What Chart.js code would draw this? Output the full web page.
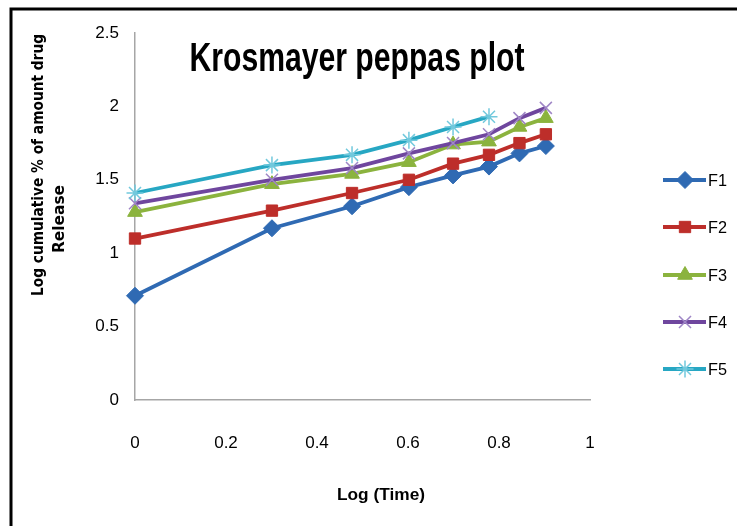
<!DOCTYPE html>
<html lang="en">
<head>
  <meta charset="UTF-8">
  <title>Krosmayer peppas plot</title>
  <script src="https://cdn.jsdelivr.net/npm/chart.js@4.4.1/dist/chart.umd.min.js"></script>
</head>
<style>
* {
  margin: 0;
  padding: 0;
  box-sizing: border-box;
}
html, body {
  width: 737px;
  height: 526px;
  background: #fff;
  overflow: hidden;
}
.wrap {
  position: relative;
  width: 737px;
  height: 526px;
}
</style>
<body>
<div class="wrap">
  <canvas id="chart" width="737" height="526"></canvas>
</div>
<script>
// log(time) values
const logTime = [0, 0.301, 0.477, 0.602, 0.699, 0.778, 0.845, 0.903];

// log cumulative % drug released
const f1 = [0.71, 1.17, 1.32, 1.45, 1.53, 1.59, 1.68, 1.73];
const f2 = [1.10, 1.29, 1.41, 1.50, 1.61, 1.67, 1.75, 1.81];
const f3 = [1.28, 1.47, 1.54, 1.62, 1.74, 1.76, 1.86, 1.92];
const f4 = [1.34, 1.50, 1.58, 1.68, 1.75, 1.81, 1.92, 1.99];
const f5 = [1.41, 1.60, 1.67, 1.77, 1.86, 1.93];

const seriesNames = ["F1", "F2", "F3", "F4", "F5"];
const seriesValues = [f1, f2, f3, f4, f5];

const lineColors = ["#2f6ab3", "#bd2e2a", "#8bb33e", "#6f469e", "#27a7c3"];
const markColors = ["#2f6ab3", "#bd2e2a", "#8bb33e", "#9f86c6", "#72c9dd"];
const markStyles = ["rectRot", "rect", "triangle", "crossRot", "star"];
const markSizes = [8.5, 8, 8.5, 8.5, 8.5];

const sans = "'Liberation Sans', Arial, sans-serif";

const datasets = seriesNames.map((name, i) => ({
  label: name,
  data: seriesValues[i].map((v, j) => ({ x: logTime[j], y: v })),
  borderColor: lineColors[i],
  backgroundColor: markColors[i],
  pointBackgroundColor: markColors[i],
  pointBorderColor: markColors[i],
  pointBorderWidth: i >= 3 ? 1.5 : 1,
  pointStyle: markStyles[i],
  pointRadius: markSizes[i],
  borderWidth: 3.8,
  clip: false,
  order: 5 - i
}));

// draws text squeezed (or stretched) to a given width
function fitText(ctx, text, x, y, width, rot) {
  const w = ctx.measureText(text).width;
  ctx.save();
  ctx.translate(x, y);
  if (rot) ctx.rotate(rot);
  ctx.scale(width / w, 1);
  ctx.fillText(text, 0, 0);
  ctx.restore();
}

// outer frame, titles and Excel-like legend
const decor = {
  id: "decor",
  afterDraw(chart) {
    const ctx = chart.ctx;
    ctx.save();
    ctx.strokeStyle = "#000";
    ctx.lineWidth = 3;
    ctx.beginPath();
    ctx.moveTo(737, 9);
    ctx.lineTo(11, 9);
    ctx.lineTo(11, 526);
    ctx.stroke();

    ctx.fillStyle = "#000";
    ctx.textAlign = "center";
    ctx.textBaseline = "middle";

    // chart title sits inside the plot
    ctx.font = "bold 40px " + sans;
    fitText(ctx, "Krosmayer peppas plot", 357, 60, 335);

    // axis titles
    ctx.font = "bold 17px " + sans;
    fitText(ctx, "Log (Time)", 381, 495, 88);
    ctx.font = "bold 15px 'DejaVu Sans', sans-serif";
    fitText(ctx, "Log cumulative % of amount drug", 39, 165, 262, -Math.PI / 2);
    fitText(ctx, "Release", 60, 219, 68, -Math.PI / 2);

    // legend
    const ys = [180, 227, 275, 322, 369];
    ctx.textAlign = "left";
    ctx.font = "17px " + sans;
    chart.data.datasets.forEach((ds, i) => {
      const y = ys[i];
      ctx.strokeStyle = ds.borderColor;
      ctx.lineWidth = 3.8;
      ctx.beginPath();
      ctx.moveTo(663, y);
      ctx.lineTo(706, y);
      ctx.stroke();
      ctx.fillStyle = ds.pointBackgroundColor;
      ctx.strokeStyle = ds.pointBorderColor;
      ctx.lineWidth = ds.pointBorderWidth;
      Chart.helpers.drawPoint(ctx, {
        pointStyle: ds.pointStyle,
        radius: ds.pointRadius,
        rotation: 0,
        borderWidth: ds.pointBorderWidth
      }, 685, y);
      ctx.fillStyle = "#000";
      fitText(ctx, ds.label, 708, y + 1, 19);
    });
    ctx.restore();
  }
};

const fmt = (v) => String(Math.round(v * 10) / 10);

new Chart(document.getElementById("chart"), {
  type: "line",
  data: { datasets: datasets },
  plugins: [decor],
  options: {
    responsive: false,
    animation: false,
    layout: { padding: { top: 33, right: 147, left: 0, bottom: 0 } },
    plugins: {
      legend: { display: false },
      tooltip: { enabled: false },
      title: { display: false }
    },
    scales: {
      x: {
        type: "linear",
        min: 0,
        max: 1,
        afterFit(scale) { scale.height = 126; },
        border: { color: "#a6a6a6", width: 1.5 },
        grid: { display: false, drawTicks: true, tickLength: 7, tickColor: "#a6a6a6", drawOnChartArea: false },
        ticks: {
          stepSize: 0.2,
          padding: 26,
          color: "#000",
          font: { family: sans, size: 17 },
          callback: fmt
        }
      },
      y: {
        min: 0,
        max: 2.5,
        afterFit(scale) { scale.width = 135; },
        border: { color: "#a6a6a6", width: 1.5 },
        grid: { display: false, drawTicks: true, tickLength: 6, tickColor: "#a6a6a6", drawOnChartArea: false },
        ticks: {
          stepSize: 0.5,
          padding: 10,
          color: "#000",
          font: { family: sans, size: 17 },
          callback: fmt
        }
      }
    }
  }
});
</script>
</body>
</html>
